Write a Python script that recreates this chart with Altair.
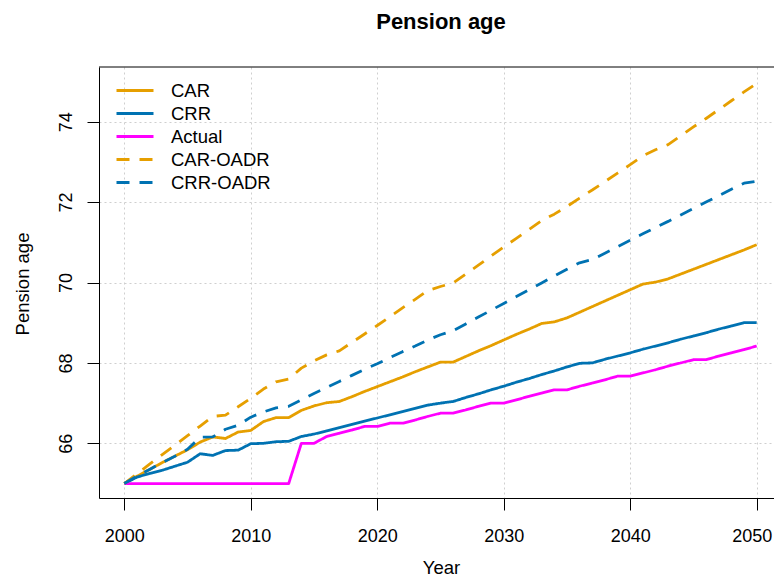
import altair as alt
import pandas as pd

years = list(range(2000, 2051))

car = [65.0, 65.18, 65.35, 65.52, 65.68, 65.84, 66.03, 66.16, 66.12, 66.28,
       66.32, 66.54, 66.64, 66.64, 66.82, 66.93, 67.01, 67.04, 67.16, 67.29,
       67.41, 67.53, 67.65, 67.78, 67.90, 68.02, 68.02, 68.16, 68.30, 68.43,
       68.57, 68.71, 68.84, 68.98, 69.02, 69.12, 69.26, 69.40, 69.54, 69.68,
       69.82, 69.96, 70.01, 70.09, 70.21, 70.33, 70.45, 70.57, 70.69, 70.81,
       70.94]

crr = [65.0, 65.16, 65.25, 65.33, 65.43, 65.53, 65.74, 65.70, 65.82, 65.83,
       65.99, 66.0, 66.04, 66.05, 66.17, 66.23, 66.31, 66.39, 66.47, 66.55,
       66.63, 66.71, 66.79, 66.87, 66.95, 67.0, 67.04, 67.14, 67.23, 67.33,
       67.42, 67.52, 67.61, 67.71, 67.80, 67.90, 67.99, 68.0, 68.09, 68.17,
       68.25, 68.34, 68.42, 68.50, 68.59, 68.67, 68.75, 68.84, 68.92, 69.0,
       69.0]

actual = [65.0, 65.0, 65.0, 65.0, 65.0, 65.0, 65.0, 65.0, 65.0, 65.0,
          65.0, 65.0, 65.0, 65.0, 66.0, 66.0, 66.17, 66.25, 66.33, 66.42,
          66.42, 66.5, 66.5, 66.58, 66.67, 66.75, 66.75, 66.83, 66.92, 67.0,
          67.0, 67.08, 67.17, 67.25, 67.33, 67.33, 67.42, 67.5, 67.58, 67.67,
          67.67, 67.75, 67.83, 67.92, 68.0, 68.08, 68.08, 68.17, 68.25, 68.33,
          68.42]

car_oadr = [65.0, 65.24, 65.48, 65.72, 65.95, 66.19, 66.43, 66.67, 66.70, 66.91,
            67.12, 67.35, 67.53, 67.60, 67.87, 68.05, 68.20, 68.30, 68.51, 68.72,
            68.93, 69.15, 69.37, 69.58, 69.80, 69.90, 69.99, 70.21, 70.43, 70.66,
            70.88, 71.10, 71.32, 71.54, 71.70, 71.89, 72.10, 72.30, 72.51, 72.72,
            72.93, 73.15, 73.30, 73.43, 73.65, 73.87, 74.08, 74.30, 74.52, 74.74,
            74.95]

crr_oadr = [65.0, 65.18, 65.35, 65.52, 65.68, 65.85, 66.15, 66.16, 66.35, 66.45,
            66.65, 66.78, 66.88, 66.92, 67.08, 67.24, 67.39, 67.54, 67.69, 67.84,
            67.98, 68.13, 68.28, 68.42, 68.57, 68.70, 68.80, 68.97, 69.14, 69.31,
            69.48, 69.65, 69.82, 69.99, 70.16, 70.33, 70.49, 70.57, 70.73, 70.89,
            71.05, 71.21, 71.37, 71.52, 71.68, 71.84, 72.00, 72.16, 72.32, 72.47,
            72.52]

series_names = ["CAR", "CRR", "Actual", "CAR-OADR", "CRR-OADR"]
series_colors = ["#E69F00", "#0072B2", "#FF00FF", "#E69F00", "#0072B2"]
series_dashes = [[1, 0], [1, 0], [1, 0], [13, 10], [13, 10]]

x_ticks = [2000, 2010, 2020, 2030, 2040, 2050]
y_ticks = [66, 68, 70, 72, 74]

rows = []
for name, vals in zip(series_names, [car, crr, actual, car_oadr, crr_oadr]):
    for yr, v in zip(years, vals):
        rows.append({"Year": yr, "value": v, "series": name})
df = pd.DataFrame(rows)

FONT = "Liberation Sans"
W, H = 675, 431


def make_legend():
    return alt.Legend(title=None, orient="none", legendX=16, legendY=12,
                      symbolType="stroke", symbolSize=1369,
                      symbolStrokeWidth=2.8, clipHeight=23, rowPadding=0,
                      padding=0, labelOffset=16, labelFontSize=18.5,
                      labelFont=FONT, labelColor="black", labelLimit=300)


lines = alt.Chart(df).mark_line(strokeWidth=2.8, strokeJoin="round").encode(
    x=alt.X("Year:Q",
            scale=alt.Scale(domain=[1998, 2051.37], nice=False, zero=False),
            axis=alt.Axis(values=x_ticks, format="d", title="Year",
                          labelBaseline="alphabetic", labelPadding=31,
                          labelOffset={"condition": {"test": "datum.value == 2050",
                                                     "value": -5},
                                       "value": 0},
                          titleX=342, titleY=75, titleAlign="center",
                          titleBaseline="alphabetic")),
    y=alt.Y("value:Q",
            scale=alt.Scale(domain=[64.64, 75.36], nice=False, zero=False),
            axis=alt.Axis(values=y_ticks, format="d", title="Pension age",
                          labelAngle=270, labelAlign="center",
                          labelBaseline="alphabetic", labelPadding=16,
                          titleAngle=270, titleX=-71, titleY=216.5,
                          titleAlign="center", titleBaseline="alphabetic")),
    color=alt.Color("series:N",
                    scale=alt.Scale(domain=series_names, range=series_colors),
                    legend=make_legend()),
    strokeDash=alt.StrokeDash("series:N",
                              scale=alt.Scale(domain=series_names, range=series_dashes),
                              legend=make_legend()),
    order=alt.Order("Year:Q"),
)

frame_top = alt.Chart(pd.DataFrame({"k": [0]})).mark_rule(
    color="black", strokeWidth=1
).encode(x=alt.value(0), x2=alt.value(W), y=alt.value(0))

chart = alt.layer(lines, frame_top).properties(
    width=W, height=H,
    background="white",
    title=alt.TitleParams("Pension age", anchor="middle", frame="group",
                          font=FONT, fontSize=22, fontWeight="bold",
                          color="black", offset=16, baseline="alphabetic",
                          dx=4.5),
    autosize=alt.AutoSizeParams(type="none"),
    padding={"left": 91, "top": 59, "right": 0, "bottom": 78},
).configure_view(stroke=None).configure_axis(
    domainColor="black", domainWidth=1, tickColor="black", tickSize=12,
    tickWidth=1, labelFont=FONT, labelFontSize=18, labelColor="black",
    titleFont=FONT, titleFontSize=18.5, titleFontWeight="normal",
    titleColor="black", grid=True, gridColor="#cfcfcf", gridDash=[2, 3],
    gridWidth=1
)

chart.save("out.html", embed_options={"renderer": "svg", "actions": False})
